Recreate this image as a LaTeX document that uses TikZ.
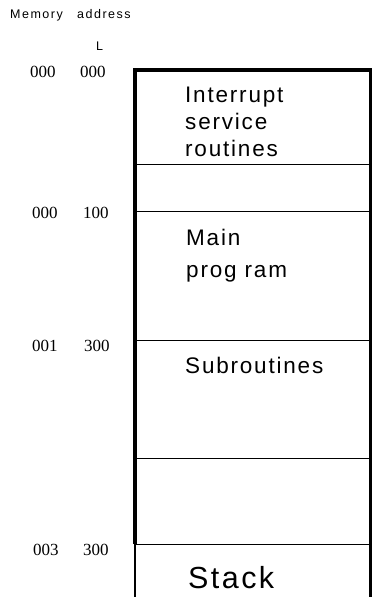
\documentclass[tikz,border=0pt]{standalone}
\usepackage{fontspec}
\setmainfont{Liberation Sans}
\newfontfamily\spacedsans[LetterSpace=8]{Liberation Sans}
\newfontfamily\headsans[LetterSpace=12]{Liberation Sans}
\newfontfamily\addrfont{Liberation Serif}
\tikzset{
  frame/.style={line width=3.4bp, line join=miter},
  divider/.style={line width=1bp},
  region/.style={anchor=base west, inner sep=0pt, font=\spacedsans\fontsize{22.5bp}{27bp}\selectfont},
  addr/.style={anchor=base west, inner sep=0pt, font=\addrfont\fontsize{17bp}{20bp}\selectfont},
  head/.style={anchor=base west, inner sep=0pt, font=\headsans\fontsize{12.5bp}{15bp}\selectfont}
}
\begin{document}
\begin{tikzpicture}[x=1bp, y=-1bp]
  \useasboundingbox (0,0) rectangle (372,597);

  % memory map frame
  \draw[frame] (135,544) -- (135,70) -- (370.5,70) -- (370.5,597);
  \draw[line width=2bp] (135,544) -- (135,597);

  % region boundaries
  \foreach \yy in {165,211,340,458,544}
    \draw[divider] (135,\yy) -- (370.5,\yy);

  % column headings
  \node[head] (memhead) at (10,19) {Memory};
  \node[head] (addrhead) at (77,19) {address};
  \node[head] (lowhead) at (96,51) {L};

  % start addresses
  \node[addr] (a1h) at (30,78) {000};
  \node[addr] (a1l) at (80,78) {000};
  \node[addr] (a2h) at (32,218) {000};
  \node[addr] (a2l) at (83,218) {100};
  \node[addr] (a3h) at (32,351) {001};
  \node[addr] (a3l) at (84,351) {300};
  \node[addr] (a4h) at (33,555) {003};
  \node[addr] (a4l) at (83,555) {300};

  % region contents
  \node[region] (isr1) at (185,103) {Interrupt};
  \node[region] (isr2) at (185,130) {service};
  \node[region] (isr3) at (185,157) {routines};
  \node[region] (main1) at (186,245) {Main};
  \node[region] (main2) at (186,277) {prog ram};
  \node[region] (subr) at (185,373) {Subroutines};
  \node[region, font=\spacedsans\fontsize{30.5bp}{36bp}\selectfont] (stack) at (188,588) {Stack};
\end{tikzpicture}
\end{document}
